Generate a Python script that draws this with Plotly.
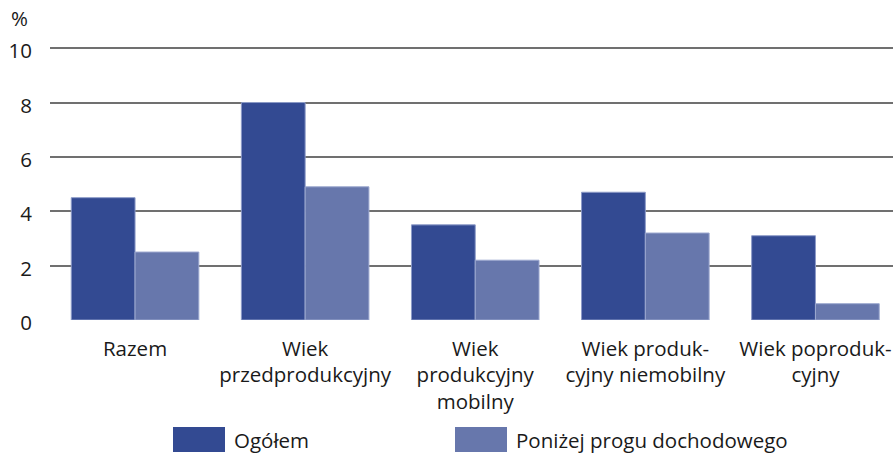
import plotly.graph_objects as go

categories = ["Razem", "Wiek<br>przedprodukcyjny", "Wiek<br>produkcyjny<br>mobilny",
              "Wiek produk-<br>cyjny niemobilny", "Wiek poproduk-<br>cyjny"]
series_names = ["Ogółem", "Poniżej progu dochodowego"]
ogolem = [4.5, 8.0, 3.5, 4.7, 3.1]
ponizej = [2.5, 4.9, 2.2, 3.2, 0.6]
y_ticks = [0, 2, 4, 6, 8, 10]
colors = ["#334a92", "#6777ac"]
edge_colors = ["#8d9bc8", "#9ca8cf"]

FONT = "Open Sans"
FS = 20.5
W, H = 893, 453
ML, MR, MT, MB = 50, 0, 46, 133
PW, PH = W - ML - MR, H - MT - MB
YMAX = 10.08


def py(px):
    """pixel row -> paper y"""
    return (H - MB - px) / PH


fig = go.Figure()
for name, vals, c, ec in zip(series_names, [ogolem, ponizej], colors, edge_colors):
    fig.add_trace(go.Bar(x=list(range(len(categories))), y=vals, name=name,
                         marker=dict(color=c, line=dict(color=ec, width=1)),
                         showlegend=False, hoverinfo="skip"))

fig.update_layout(
    width=W, height=H,
    margin=dict(l=ML, r=MR, t=MT, b=MB),
    paper_bgcolor="white", plot_bgcolor="white",
    barmode="group", bargap=0.25, bargroupgap=0,
    font=dict(family=FONT, size=FS, color="#1a1a1a"),
)
fig.update_xaxes(range=[-0.5, 4.456], tickmode="array",
                 tickvals=list(range(len(categories))), ticktext=categories,
                 showgrid=False, zeroline=False, showline=False, ticks="",
                 ticklabelstandoff=14, tickfont=dict(size=FS))
fig.update_yaxes(range=[0, YMAX], tickmode="array", tickvals=y_ticks,
                 showgrid=True, gridcolor="#707070", gridwidth=1.6,
                 zeroline=False, ticks="", ticklabelstandoff=17,
                 ticklabelshift=3, tickfont=dict(size=FS))

fig.add_annotation(text="%", xref="paper", yref="paper",
                   x=-41 / PW, y=py(34), xanchor="left", yanchor="bottom",
                   showarrow=False, font=dict(size=FS))

# custom legend keys
legend_x = [173, 455]
for name, c, lx in zip(series_names, colors, legend_x):
    fig.add_shape(type="rect", xref="paper", yref="paper",
                  x0=(lx - ML) / PW, x1=(lx + 52 - ML) / PW,
                  y0=py(427), y1=py(452),
                  fillcolor=c, line=dict(width=0))
    fig.add_annotation(text=name, xref="paper", yref="paper",
                       x=(lx + 59 - ML) / PW, y=py(440),
                       xanchor="left", yanchor="middle", showarrow=False,
                       font=dict(size=FS))

fig.write_html("out.html", config={"displayModeBar": False},
               post_script="document.body.style.margin='0';document.body.style.overflow='hidden';")
